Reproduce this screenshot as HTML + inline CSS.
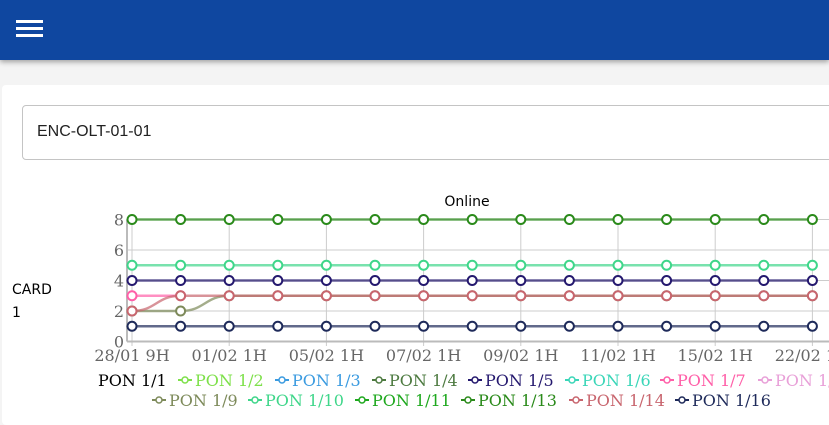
<!DOCTYPE html>
<html><head><meta charset="utf-8"><style>
body{margin:0;width:829px;height:415px;overflow:hidden;background:#f4f4f4;font-family:"Liberation Sans",sans-serif;position:relative}
#hdr{position:absolute;left:0;top:0;width:829px;height:60px;background:#0f47a0;box-shadow:0 2px 5px rgba(0,0,0,.35)}
.bar{position:absolute;left:16px;width:27px;height:3px;background:#fff}
#card{position:absolute;left:2px;top:85px;width:840px;height:340px;background:#fff;border-radius:4px}
#inp{position:absolute;left:22px;top:105px;width:820px;height:55px;border:1px solid #c4c4c4;border-radius:4px;box-sizing:border-box;font-size:16px;color:#222;padding:17px 14px}
#cardlbl{position:absolute;left:12px;top:279px;font-size:14px;line-height:23px;color:#000;font-family:"DejaVu Sans",sans-serif}
svg{position:absolute;left:0;top:0}
</style></head><body>
<div id="hdr">
<div>
<div class="bar" style="top:20px"></div><div class="bar" style="top:27px"></div><div class="bar" style="top:34px"></div></div></div>
<div id="card"></div>
<div id="inp">ENC-OLT-01-01</div>
<div id="cardlbl">CARD<br>1</div>
<svg id="chart" width="829" height="415"></svg>
<script>
const xLabels=["28/01 9H","01/02 1H","05/02 1H","07/02 1H","09/02 1H","11/02 1H","15/02 1H","22/02 1H"];
const nPoints=15;
const yTicks=[0,2,4,6,8];
const seriesNames=["PON 1/1","PON 1/2","PON 1/3","PON 1/4","PON 1/5","PON 1/6","PON 1/7","PON 1/8","PON 1/9","PON 1/10","PON 1/11","PON 1/13","PON 1/14","PON 1/16"];
const seriesColors=["#000000","#7ee04a","#3b9be0","#4d7a40","#24186e","#3ad6b8","#ff5fa8","#e8a0d8","#7d8a5a","#3fd68a","#1ea81e","#2a8a1a","#c8656e","#1e2a5a"];
const vPON1_7=[3,3];
const vPON1_9=[2,2,3,3,3,3,3,3,3,3,3,3,3,3,3];
const vPON1_10=[5,5,5,5,5,5,5,5,5,5,5,5,5,5,5];
const vPON1_13=[8,8,8,8,8,8,8,8,8,8,8,8,8,8,8];
const vPON1_5=[4,4,4,4,4,4,4,4,4,4,4,4,4,4,4];
const vPON1_14=[2,3,3,3,3,3,3,3,3,3,3,3,3,3,3];
const vPON1_16=[1,1,1,1,1,1,1,1,1,1,1,1,1,1,1];
const drawn=[[6,vPON1_7],[8,vPON1_9],[11,vPON1_13],[9,vPON1_10],[4,vPON1_5],[12,vPON1_14],[13,vPON1_16]];
const X=i=>132+i*48.6, Y=v=>341.5-v*15.25;
const SERIF='DejaVu Serif,serif';
const svg=document.getElementById('chart');const NS='http://www.w3.org/2000/svg';
function mk(t,a,p){const e=document.createElementNS(NS,t);for(const k in a)e.setAttribute(k,a[k]);(p||svg).appendChild(e);return e;}
const t=mk('text',{x:467,y:206,'text-anchor':'middle','font-size':14,'font-family':'DejaVu Sans,sans-serif'});t.textContent='Online';


yTicks.forEach(v=>{const l=mk('line',{x1:127,x2:829,y1:Y(v),y2:Y(v),stroke:'#ccc','stroke-width':1});


const tx=mk('text',{x:124,y:Y(v)+6,'text-anchor':'end','font-size':16,fill:'#666','font-family':SERIF});tx.textContent=v;

});
xLabels.forEach((s,i)=>{const x=X(i*2);const l=mk('line',{x1:x,x2:x,y1:Y(8),y2:346,stroke:'#ccc','stroke-width':1});


const tx=mk('text',{x:x,y:361,'text-anchor':'middle','font-size':16,fill:'#666','font-family':SERIF});tx.textContent=s;

});
const ax=mk('line',{x1:127,x2:829,y1:Y(0),y2:Y(0),stroke:'#bbb','stroke-width':2});


const ay=mk('line',{x1:127,x2:127,y1:Y(8),y2:Y(0),stroke:'#bbb','stroke-width':2});


drawn.forEach(([ci,vals])=>{const c=seriesColors[ci];const g=mk('g',{});


let d='M'+X(0)+','+Y(vals[0]);for(let i=1;i<vals.length;i++){const x0=X(i-1),x1=X(i),m=(x0+x1)/2;d+=` C${m},${Y(vals[i-1])} ${m},${Y(vals[i])} ${x1},${Y(vals[i])}`;}
mk('path',{d:d,fill:'none',stroke:c,'stroke-opacity':0.7,'stroke-width':2.5},g);
vals.forEach((v,i)=>{const p=mk('circle',{cx:X(i),cy:Y(v),r:4.5,fill:'#fff',stroke:c,'stroke-width':2},g);

});});
const legPos=[[98,380,0],[178,380,1],[275,380,1],[372,380,1],[468,380,1],[565,380,1],[660,380,1],[758,380,1],[152,400,1],[248,400,1],[355,400,1],[461,400,1],[569,400,1],[675,400,1]];
seriesNames.forEach((n,i)=>{const [x,y,ic]=legPos[i];const g=mk('g',{});


let tx=x;if(ic){mk('line',{x1:x,x2:x+14,y1:y,y2:y,stroke:seriesColors[i],'stroke-width':2},g);mk('circle',{cx:x+7,cy:y,r:3,fill:'#fff',stroke:seriesColors[i],'stroke-width':1.5},g);tx=x+17;}
const t=mk('text',{x:tx,y:y+6,'font-size':16,fill:seriesColors[i],'font-family':SERIF},g);t.textContent=n;});
</script>
</body></html>
